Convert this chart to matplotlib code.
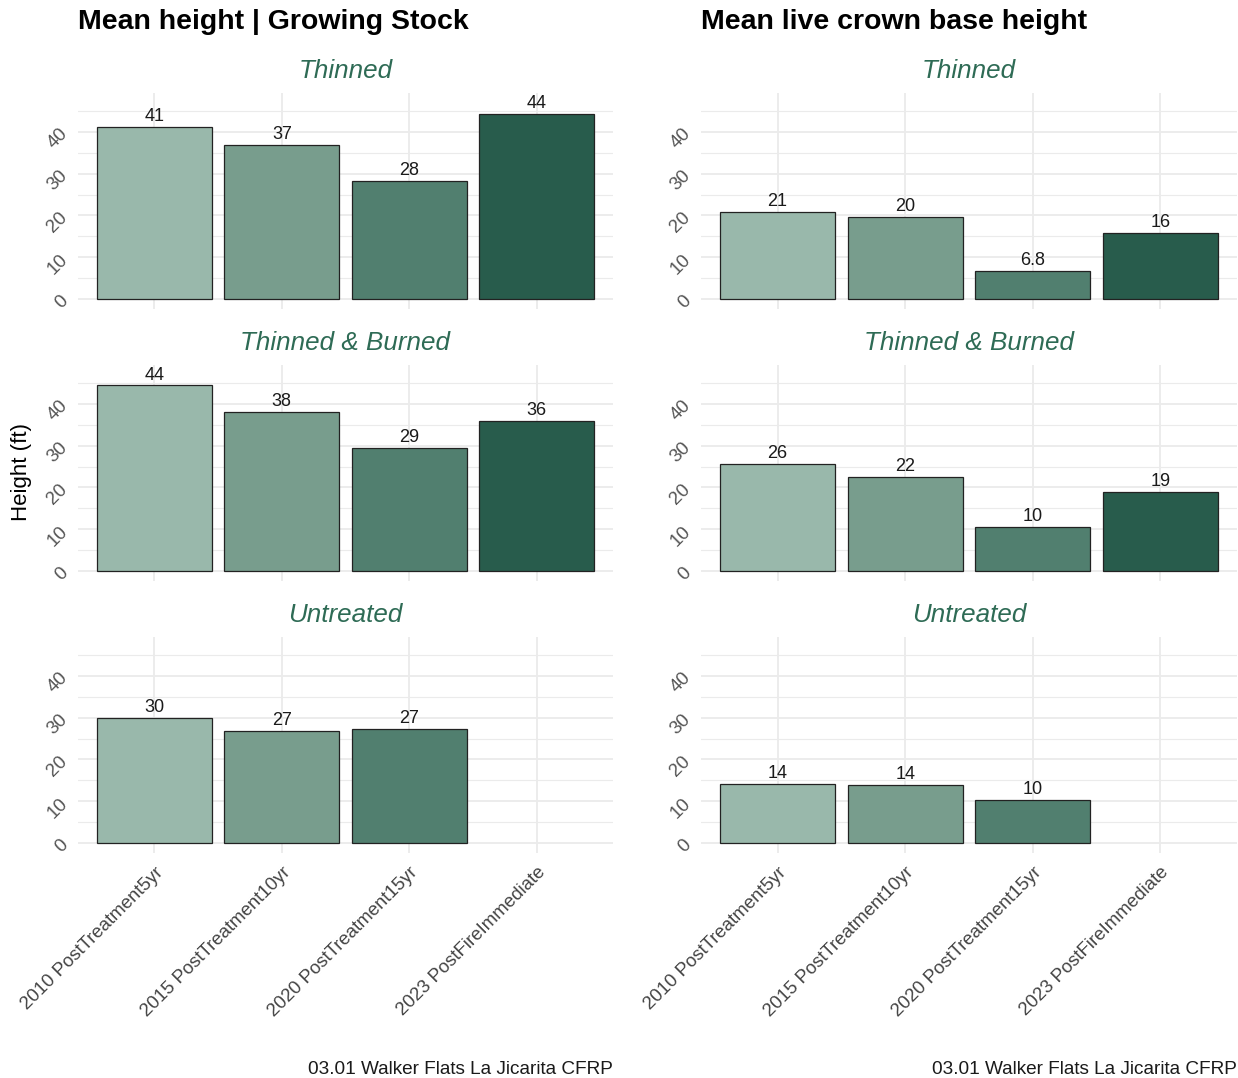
import matplotlib
matplotlib.use("Agg")
import matplotlib.pyplot as plt
from matplotlib.ticker import MultipleLocator

plt.rcParams['font.family'] = ['Liberation Sans', 'DejaVu Sans']

categories = ["2010 PostTreatment5yr", "2015 PostTreatment10yr",
              "2020 PostTreatment15yr", "2023 PostFireImmediate"]
treatments = ["Thinned", "Thinned & Burned", "Untreated"]
titles = ["Mean height | Growing Stock", "Mean live crown base height"]

height_thinned = [41.2, 36.9, 28.3, 44.3]
height_thinned_burned = [44.4, 38.1, 29.4, 35.9]
height_untreated = [29.9, 26.8, 27.3, None]

crown_thinned = [20.8, 19.6, 6.8, 15.8]
crown_thinned_burned = [25.6, 22.5, 10.5, 18.9]
crown_untreated = [14.1, 13.9, 10.3, None]

bar_colors = ["#99b8ab", "#789d8d", "#517f6f", "#285c4c"]
caption = "03.01 Walker Flats La Jicarita CFRP"
ylabel = "Height (ft)"

data = [[height_thinned, height_thinned_burned, height_untreated],
        [crown_thinned, crown_thinned_burned, crown_untreated]]

W, H = 1238, 1078
fig = plt.figure(figsize=(W / 100, H / 100), dpi=100)

col_x = [(78, 613), (701, 1237)]
row_y = [(93, 309), (365, 581), (637, 853)]
strip_color = "#2e6b55"
grid_color = "#ebebeb"

for c in range(2):
    x0, x1 = col_x[c]
    fig.text(x0 / W, 1 - 22 / H, titles[c], fontsize=20.5, fontweight='bold',
             ha='left', va='center')
    for r in range(3):
        y0, y1 = row_y[r]
        ax = fig.add_axes([x0 / W, 1 - y1 / H, (x1 - x0) / W, (y1 - y0) / H])
        vals = data[c][r]
        xs = list(range(1, 5))
        ax.set_xlim(0.4, 4.6)
        ax.set_ylim(-2.4, 49.3)
        ax.yaxis.set_major_locator(MultipleLocator(10))
        ax.yaxis.set_minor_locator(MultipleLocator(5))
        ax.set_yticks([0, 10, 20, 30, 40])
        ax.grid(True, which='major', color=grid_color, lw=1.3, zorder=0)
        ax.grid(True, which='minor', axis='y', color=grid_color, lw=0.8, zorder=0)
        ax.set_axisbelow(True)
        for s in ax.spines.values():
            s.set_visible(False)
        ax.tick_params(which='both', length=0)
        for i, v in enumerate(vals):
            if v is None:
                continue
            ax.bar(xs[i], v, width=0.9, color=bar_colors[i], edgecolor="#222222",
                   linewidth=0.9, zorder=2)
            ax.text(xs[i], v + 0.4, f"{v:.2g}", ha='center', va='bottom',
                    fontsize=13, color="#1a1a1a", zorder=3)
        ax.set_xticks(xs)
        if r == 2:
            ax.set_xticklabels(categories, rotation=45, ha='right',
                               rotation_mode='anchor', fontsize=13.4, color="#444444")
            ax.tick_params(axis='x', pad=8)
        else:
            ax.set_xticklabels([])
        ax.set_yticklabels(["0", "10", "20", "30", "40"], rotation=45,
                           fontsize=13.5, color="#555555")
        ax.tick_params(axis='y', pad=5)
        fig.text((x0 + x1) / 2 / W, 1 - (y0 - 22) / H, treatments[r],
                 fontsize=18.7, style='italic', color=strip_color,
                 ha='center', va='center')
    fig.text(x1 / W, 1 - 1069 / H, caption, fontsize=13.7, ha='right',
             va='center', color="#1a1a1a")

fig.text(22 / W, 1 - 472 / H, ylabel, rotation=90, fontsize=16,
         ha='center', va='center')

fig.savefig("out.png", dpi=100, facecolor='white')
